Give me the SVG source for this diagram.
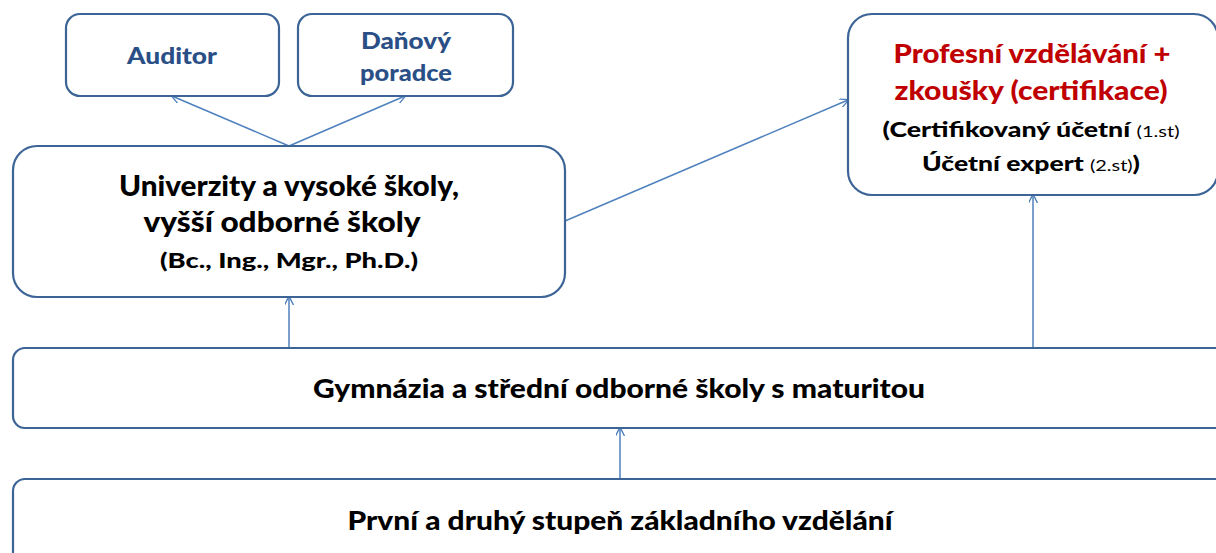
<svg xmlns="http://www.w3.org/2000/svg" width="1216" height="553" viewBox="0 0 1216 553">
<style>
.box{fill:#fff;stroke:#3c6496;stroke-width:2.2}
.t{font-family:Lato,"Open Sans","Liberation Sans",sans-serif;font-weight:900;text-anchor:middle;fill:#000}
.blue{fill:#2a4f86}
.red{fill:#c00000}
.c{stroke:#4f81bd;stroke-width:1.5;fill:none;marker-end:url(#ah)}
</style>
<defs>
<marker id="ah" viewBox="0 0 10 10" refX="9" refY="5" markerWidth="9" markerHeight="9" markerUnits="userSpaceOnUse" orient="auto">
<path d="M0,0 L10,5 L0,10" fill="none" stroke="#4f81bd" stroke-width="1.5"/>
</marker>
</defs>
<g id="connectors">
<line class="c" x1="289" y1="146" x2="172" y2="96"/>
<line class="c" x1="289" y1="146" x2="405" y2="96"/>
<line class="c" x1="565" y1="221" x2="848" y2="100"/>
<line class="c" x1="289" y1="348" x2="289" y2="297"/>
<line class="c" x1="1033" y1="348" x2="1033" y2="195"/>
<line class="c" x1="620" y1="479" x2="620" y2="428"/>
</g>
<g id="auditor">
<rect class="box" x="66" y="14" width="213" height="82" rx="14"/>
<text class="t blue" x="172" y="64" font-size="22" textLength="90" lengthAdjust="spacingAndGlyphs">Auditor</text>
</g>
<g id="danovy">
<rect class="box" x="298" y="14" width="215" height="82" rx="14"/>
<text class="t blue" x="406" y="49" font-size="22" textLength="90" lengthAdjust="spacingAndGlyphs">Daňový</text>
<text class="t blue" x="406" y="81" font-size="22" textLength="92" lengthAdjust="spacingAndGlyphs">poradce</text>
</g>
<g id="profesni">
<rect class="box" x="848" y="14" width="370" height="181" rx="24"/>
<text class="t red" x="1032" y="63" font-size="27" textLength="277" lengthAdjust="spacingAndGlyphs">Profesní vzdělávání +</text>
<text class="t red" x="1031" y="100" font-size="27" textLength="273" lengthAdjust="spacingAndGlyphs">zkoušky (certifikace)</text>
<text class="t" x="1031" y="137" font-size="20" textLength="297" lengthAdjust="spacingAndGlyphs">(Certifikovaný účetní <tspan font-size="15" font-weight="normal">(1.st)</tspan></text>
<text class="t" x="1031" y="171" font-size="20" textLength="218" lengthAdjust="spacingAndGlyphs">Účetní expert <tspan font-size="15" font-weight="normal">(2.st)</tspan>)</text>
</g>
<g id="univerzity">
<rect class="box" x="13" y="146" width="552" height="151" rx="24"/>
<text class="t" x="289" y="196" font-size="28" textLength="340" lengthAdjust="spacingAndGlyphs">Univerzity a vysoké školy,</text>
<text class="t" x="282" y="232" font-size="28" textLength="277" lengthAdjust="spacingAndGlyphs">vyšší odborné školy</text>
<text class="t" x="289" y="268" font-size="21" textLength="258" lengthAdjust="spacingAndGlyphs">(Bc., Ing., Mgr., Ph.D.)</text>
</g>
<g id="gymnazia">
<rect class="box" x="13" y="348" width="1220" height="80" rx="12"/>
<text class="t" x="619" y="398" font-size="26" textLength="612" lengthAdjust="spacingAndGlyphs">Gymnázia a střední odborné školy s maturitou</text>
</g>
<g id="prvni">
<rect class="box" x="13" y="479" width="1220" height="90" rx="12"/>
<text class="t" x="620" y="530" font-size="26" textLength="545" lengthAdjust="spacingAndGlyphs">První a druhý stupeň základního vzdělání</text>
</g>
</svg>
